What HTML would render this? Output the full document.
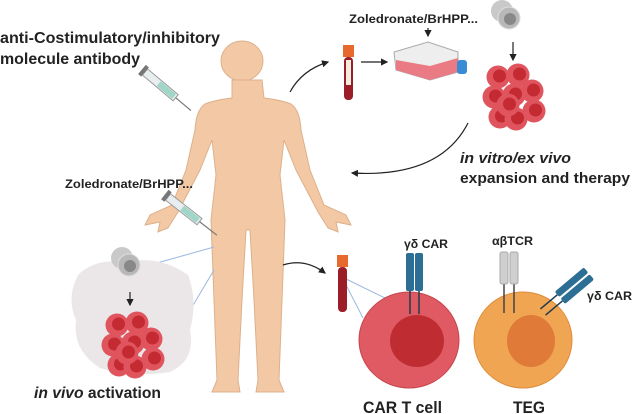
<!DOCTYPE html>
<html><head><meta charset="utf-8"><style>
html,body{margin:0;padding:0;background:#fff;}
svg{display:block;}
text{font-family:"Liberation Sans",sans-serif;font-weight:bold;fill:#222;}
</style></head><body>
<svg width="633" height="414" viewBox="0 0 633 414" xmlns="http://www.w3.org/2000/svg">
<defs>
<marker id="ah" markerWidth="6" markerHeight="6" refX="5" refY="3" orient="auto"><path d="M0,0 L6,3 L0,6 Z" fill="#222"/></marker>
<g id="cell"><circle r="11.5" fill="#e0545d"/><circle cx="1.5" cy="-1" r="6.5" fill="#c42a32"/></g>
<g id="gcell"><circle cx="-4" cy="-4" r="11" fill="#c9c9c9"/><circle cx="3" cy="3" r="11" fill="#b8b8b8" stroke="#ddd" stroke-width="1"/><circle cx="4" cy="4" r="6" fill="#888"/></g>
<g id="cluster">
<use href="#cell" x="10" y="12"/><use href="#cell" x="30" y="10"/><use href="#cell" x="44" y="26"/>
<use href="#cell" x="6" y="32"/><use href="#cell" x="26" y="30"/><use href="#cell" x="46" y="46"/>
<use href="#cell" x="12" y="52"/><use href="#cell" x="28" y="54"/><use href="#cell" x="20" y="40"/>
</g>
</defs>

<text x="0" y="43" font-size="15.5" textLength="220" lengthAdjust="spacingAndGlyphs">anti-Costimulatory/inhibitory</text>
<text x="0" y="64" font-size="15.5" textLength="140" lengthAdjust="spacingAndGlyphs">molecule antibody</text>

<!-- body -->
<ellipse cx="242" cy="61" rx="21" ry="20" fill="#f2c9a4" stroke="#ddb08c"/>
<path d="M232,80 L232,98 Q215,100 205,104 Q196,110 195,130 L186,170 L172,205 L150,215 L145,225 L160,222 L158,232 L168,228 L178,212 L200,170 L212,140 L216,175 L211,220 L214,300 L217,380 L212,392 L240,392 L238,380 L242,300 L246,230 L250,230 L254,300 L258,380 L256,392 L284,392 L279,380 L282,300 L285,220 L280,175 L284,140 L296,170 L318,212 L328,228 L338,232 L336,222 L351,225 L346,215 L324,205 L310,170 L301,130 Q300,110 291,104 Q281,100 264,98 L262,80 Z" fill="#f2c9a4" stroke="#ddb08c"/>

<!-- syringes -->
<g transform="translate(145,72) rotate(40)"><rect x="0" y="-4" width="40" height="8" fill="#e8eef0" stroke="#999"/><rect x="18" y="-3" width="20" height="6" fill="#9fd6c8"/><rect x="-4" y="-6" width="4" height="12" fill="#777"/><line x1="40" y1="0" x2="60" y2="0" stroke="#777" stroke-width="1.2"/></g>
<g transform="translate(168,197) rotate(38)"><rect x="0" y="-4" width="40" height="8" fill="#e8eef0" stroke="#999"/><rect x="18" y="-3" width="20" height="6" fill="#9fd6c8"/><rect x="-4" y="-6" width="4" height="12" fill="#777"/><line x1="40" y1="0" x2="62" y2="0" stroke="#777" stroke-width="1.2"/></g>

<text x="65" y="188" font-size="11.5" textLength="128" lengthAdjust="spacingAndGlyphs">Zoledronate/BrHPP...</text>
<text x="349" y="23" font-size="11.5" textLength="129" lengthAdjust="spacingAndGlyphs">Zoledronate/BrHPP...</text>

<!-- top arrows -->
<path d="M290,92 Q302,70 328,62" fill="none" stroke="#222" stroke-width="1.2" marker-end="url(#ah)"/>
<line x1="361" y1="62" x2="387" y2="62" stroke="#222" stroke-width="1.2" marker-end="url(#ah)"/>
<line x1="428" y1="28" x2="428" y2="36" stroke="#222" stroke-width="1.2" marker-end="url(#ah)"/>
<line x1="513" y1="42" x2="513" y2="60" stroke="#222" stroke-width="1.2" marker-end="url(#ah)"/>
<path d="M468,123 Q440,178 352,173" fill="none" stroke="#222" stroke-width="1.2" marker-end="url(#ah)"/>

<!-- tube 1 -->
<rect x="343" y="45" width="11" height="12" fill="#e8692e"/>
<rect x="344" y="57" width="9" height="43" rx="4" fill="#9a1d27"/>
<rect x="346" y="60" width="5" height="25" fill="#f3ede0"/>

<!-- flask -->
<path d="M394,52 L428,42 L458,52 L458,72 L430,80 L396,70 Z" fill="#eee" stroke="#aaa"/>
<path d="M396,60 L430,66 L458,58 L458,72 L430,80 L396,70 Z" fill="#ea7a84"/>
<rect x="457" y="60" width="10" height="14" rx="3" fill="#3a8bd6"/>

<use href="#gcell" x="506" y="15"/>
<use href="#cluster" x="488" y="65"/>

<text x="460" y="163" font-size="15" font-style="italic" textLength="111" lengthAdjust="spacingAndGlyphs">in vitro/ex vivo</text>
<text x="460" y="183" font-size="15" textLength="170" lengthAdjust="spacingAndGlyphs">expansion and therapy</text>

<!-- in vivo blob -->
<line x1="157" y1="263" x2="214" y2="247" stroke="#9ab8e0"/>
<line x1="192" y1="307" x2="214" y2="270" stroke="#9ab8e0"/>
<path d="M78,275 Q95,258 125,262 Q160,255 188,275 Q198,300 190,330 Q196,360 170,372 Q130,378 100,368 Q72,350 76,320 Q66,298 78,275 Z" fill="#ebe7e9"/>
<use href="#gcell" x="126" y="262"/>
<line x1="130" y1="292" x2="130" y2="305" stroke="#222" stroke-width="1.2" marker-end="url(#ah)"/>
<use href="#cluster" x="107" y="313"/>
<text x="34" y="398" font-size="15.5" textLength="127" lengthAdjust="spacingAndGlyphs"><tspan font-style="italic">in vivo</tspan> activation</text>

<!-- bottom arrow -->
<path d="M283,265 Q305,258 325,273" fill="none" stroke="#222" stroke-width="1.2" marker-end="url(#ah)"/>

<!-- tube 2 -->
<line x1="342" y1="277" x2="385" y2="298" stroke="#9ab8e0"/>
<line x1="342" y1="277" x2="363" y2="318" stroke="#9ab8e0"/>
<rect x="337" y="255" width="11" height="12" fill="#e8692e"/>
<rect x="338" y="267" width="9" height="45" rx="4" fill="#9a1d27"/>

<!-- CAR T cell -->
<ellipse cx="409" cy="340" rx="50" ry="48" fill="#e05a63" stroke="#c7444c"/>
<ellipse cx="417" cy="341" rx="27" ry="26" fill="#bf2d33"/>
<line x1="410" y1="290" x2="410" y2="314" stroke="#1f3b4d" stroke-width="1.5"/>
<line x1="419" y1="290" x2="419" y2="314" stroke="#1f3b4d" stroke-width="1.5"/>
<rect x="406" y="253" width="8" height="38" rx="2" fill="#2d6e94"/>
<rect x="415" y="253" width="8" height="38" rx="2" fill="#2d6e94"/>
<text x="404" y="248" font-size="11.5" textLength="44" lengthAdjust="spacingAndGlyphs">γδ CAR</text>
<text x="363" y="413" font-size="17" textLength="79" lengthAdjust="spacingAndGlyphs">CAR T cell</text>

<!-- TEG -->
<ellipse cx="523" cy="340" rx="49" ry="48" fill="#f0a552" stroke="#de8c3c"/>
<ellipse cx="531" cy="341" rx="24" ry="26" fill="#e07a38"/>
<line x1="504" y1="283" x2="504" y2="313" stroke="#444" stroke-width="1.5"/>
<line x1="514" y1="283" x2="514" y2="313" stroke="#444" stroke-width="1.5"/>
<rect x="500" y="252" width="8" height="32" rx="2" fill="#cfcfcf" stroke="#aaa"/>
<rect x="510" y="252" width="8" height="32" rx="2" fill="#cfcfcf" stroke="#aaa"/>
<text x="492" y="245" font-size="11.5" textLength="41" lengthAdjust="spacingAndGlyphs">αβTCR</text>
<g transform="translate(543,312) rotate(-40)">
<line x1="0" y1="-4" x2="22" y2="-4" stroke="#1f3b4d" stroke-width="1.5"/>
<line x1="0" y1="4" x2="22" y2="4" stroke="#1f3b4d" stroke-width="1.5"/>
<rect x="22" y="-8" width="38" height="7" rx="2" fill="#2d6e94"/>
<rect x="22" y="1" width="38" height="7" rx="2" fill="#2d6e94"/>
</g>
<text x="587" y="300" font-size="11.5" textLength="45" lengthAdjust="spacingAndGlyphs">γδ CAR</text>
<text x="513" y="413" font-size="17" textLength="32" lengthAdjust="spacingAndGlyphs">TEG</text>
</svg>
</body></html>
